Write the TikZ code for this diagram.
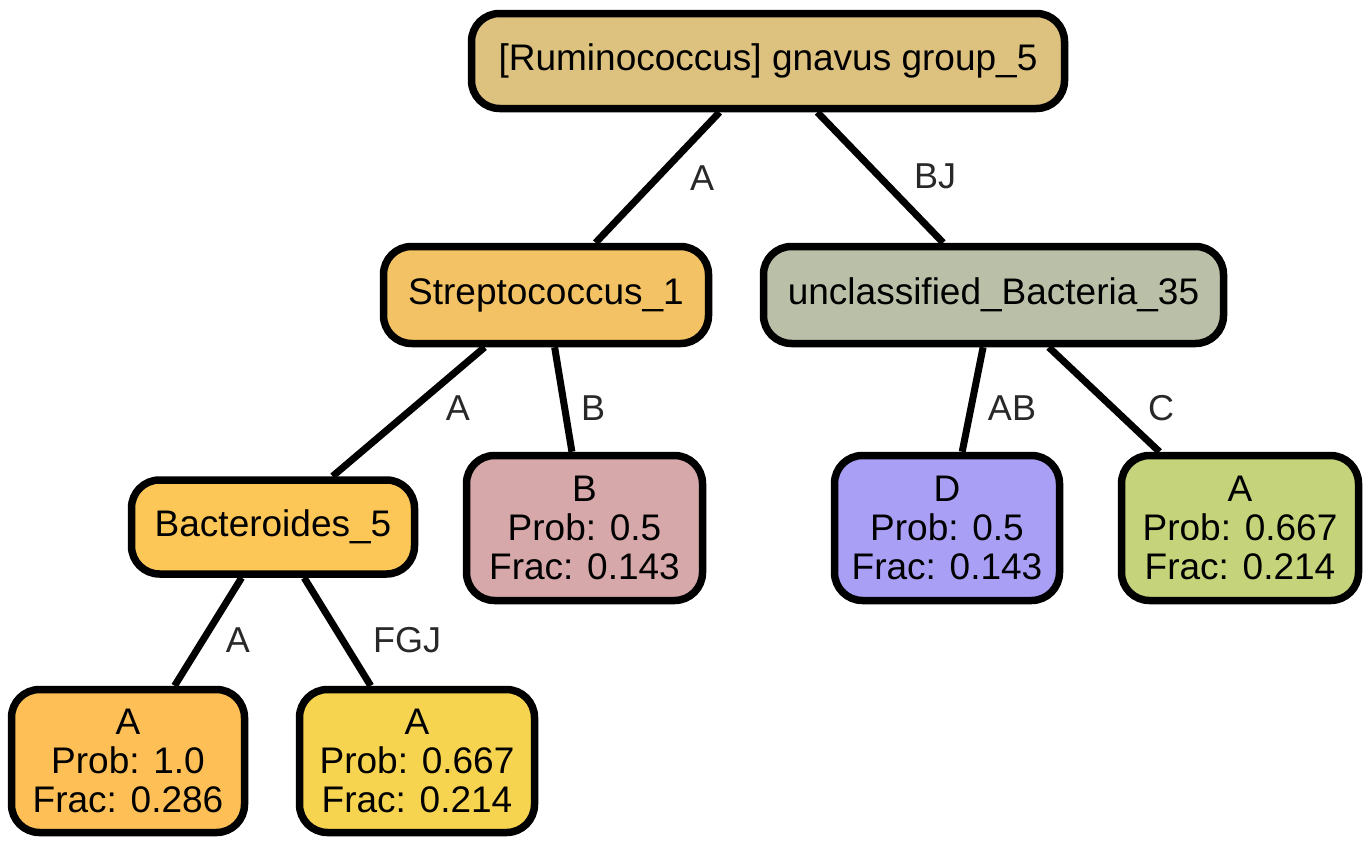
\documentclass[tikz,border=0pt]{standalone}
\usepackage{fontspec}
\setmainfont{Liberation Sans}
\definecolor{cRoot}{RGB}{221,193,127}
\definecolor{cStrep}{RGB}{242,194,101}
\definecolor{cUncl}{RGB}{186,191,168}
\definecolor{cBact}{RGB}{252,199,87}
\definecolor{cB}{RGB}{214,168,169}
\definecolor{cD}{RGB}{169,159,244}
\definecolor{cAr}{RGB}{197,212,122}
\definecolor{cAl}{RGB}{254,192,86}
\definecolor{cAm}{RGB}{247,212,80}
\definecolor{cLbl}{RGB}{40,40,40}
\begin{document}
\begin{tikzpicture}[x=1pt,y=-1pt,
  tnode/.style={draw=black, line width=7.5pt, rounded corners=28pt, inner sep=0pt, align=center,
    font=\fontsize{37}{39}\selectfont},
  edge/.style={draw=black, line width=7pt},
  lbl/.style={text=cLbl, inner sep=0pt, font=\fontsize{36}{40}\selectfont}]
\useasboundingbox (0,0) rectangle (1371,846);
\node[tnode, fill=cRoot, minimum width=593pt, minimum height=95pt] (root) at (768,61) {[Ruminococcus] gnavus group\_5};
\node[tnode, fill=cStrep, minimum width=325pt, minimum height=97pt] (strep) at (546,295) {Streptococcus\_1};
\node[tnode, fill=cUncl, minimum width=460pt, minimum height=97pt] (uncl) at (993.5,295) {unclassified\_Bacteria\_35};
\node[tnode, fill=cBact, minimum width=283pt, minimum height=94pt] (bact) at (273,527) {Bacteroides\_5};
\node[tnode, fill=cB, minimum width=236pt, minimum height=145pt] (lb) at (584.5,528) {B\\Prob: 0.5\\Frac: 0.143};
\node[tnode, fill=cD, minimum width=225pt, minimum height=145pt] (ld) at (947,528) {D\\Prob: 0.5\\Frac: 0.143};
\node[tnode, fill=cAr, minimum width=237pt, minimum height=145pt] (lar) at (1240,528) {A\\Prob: 0.667\\Frac: 0.214};
\node[tnode, fill=cAl, minimum width=233pt, minimum height=143pt] (lal) at (128,761) {A\\Prob: 1.0\\Frac: 0.286};
\node[tnode, fill=cAm, minimum width=235pt, minimum height=143pt] (lam) at (417,761) {A\\Prob: 0.667\\Frac: 0.214};
\draw[edge] (root) -- (strep) node[lbl] at (702,178) {A};
\draw[edge] (root) -- (uncl) node[lbl] at (935,176) {BJ};
\draw[edge] (strep) -- (bact) node[lbl] at (458,408) {A};
\draw[edge] (strep) -- (lb) node[lbl] at (593,408) {B};
\draw[edge] (uncl) -- (ld) node[lbl] at (1012,408) {AB};
\draw[edge] (uncl) -- (lar) node[lbl] at (1161,408) {C};
\draw[edge] (bact) -- (lal) node[lbl] at (238,640) {A};
\draw[edge] (bact) -- (lam) node[lbl] at (407,640) {FGJ};
\end{tikzpicture}
\end{document}
